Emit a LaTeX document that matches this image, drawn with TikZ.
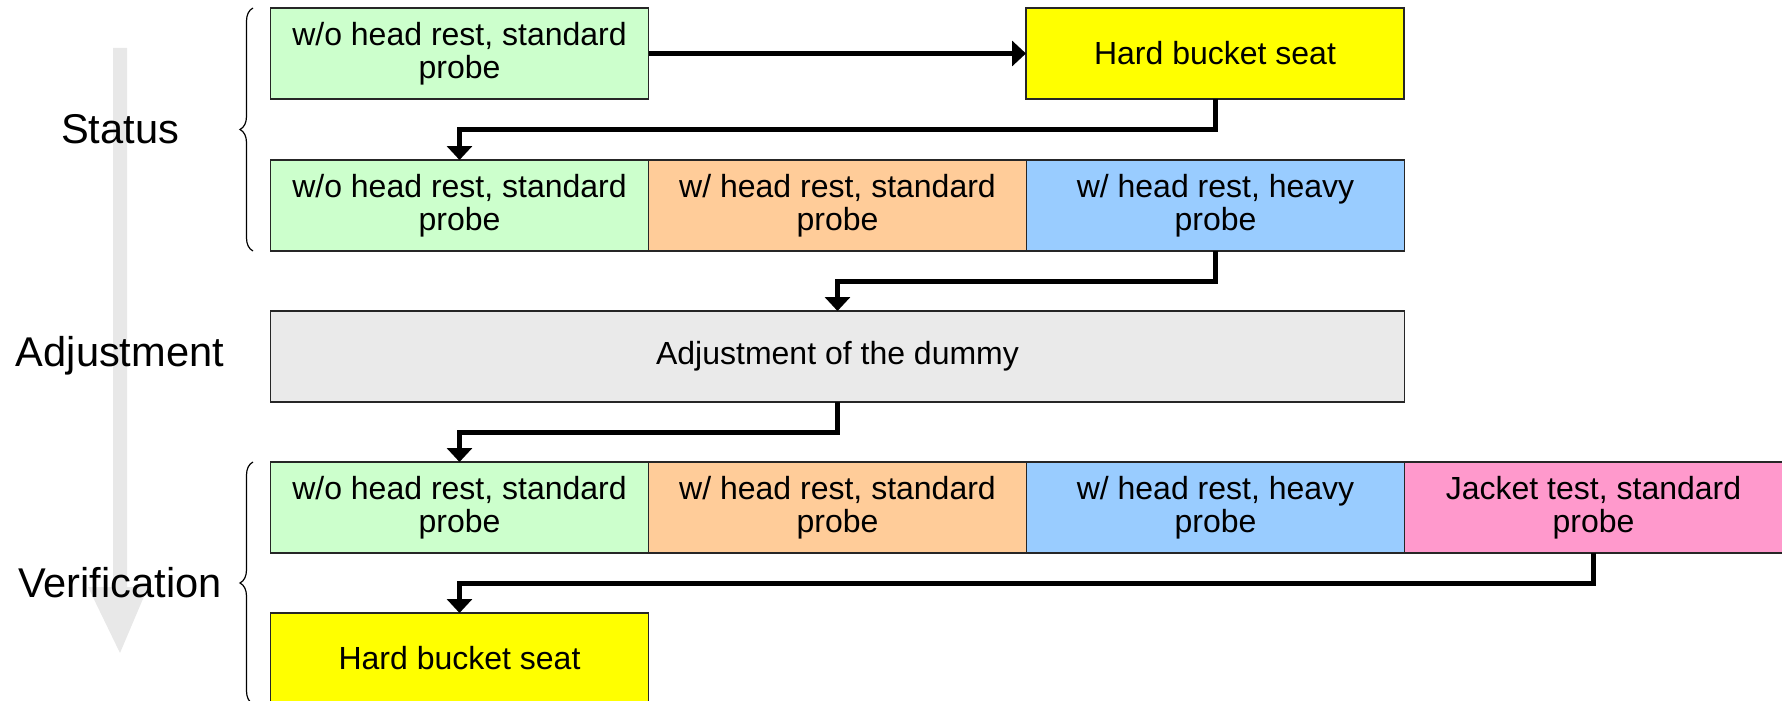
\documentclass[tikz,border=0pt]{standalone}
\usepackage{fontspec}
\setmainfont{Liberation Sans}
\usepackage{xcolor}
\usepackage{tikz}
\usetikzlibrary{positioning, arrows.meta, decorations.pathreplacing}
\definecolor{MintCell}{HTML}{CCFFCC}
\definecolor{PeachCell}{HTML}{FFCC99}
\definecolor{SkyCell}{HTML}{99CCFF}
\definecolor{RoseCell}{HTML}{FF99CC}
\definecolor{SeatCell}{HTML}{FFFF00}
\definecolor{DummyCell}{HTML}{EAEAEA}
\definecolor{FlowGrey}{HTML}{E8E8E8}

\begin{document}
\begin{tikzpicture}[x=0.5pt, y=-0.5pt,
    cell/.style={draw=black!85, line width=0.8pt, minimum width=189pt, minimum height=45.5pt,
      inner sep=0pt, outer sep=0pt, align=center, font=\fontsize{16}{16.7}\selectfont},
    phase/.style={font=\fontsize{20.8}{25}\selectfont},
    flow/.style={line width=2.5pt, -{Triangle[width=12.5pt, length=7pt]}},
    brc/.style={decorate, decoration={brace, amplitude=6.5pt}, line width=0.6pt}]
      \useasboundingbox (0,0) rectangle (1782,701);
      \fill[FlowGrey] (113,48) -- (127,48) -- (127,587) -- (148,587) -- (120,653) -- (88,587) -- (113,587) -- cycle;

      \node[phase] (status) at (120,129.5) {Status};
      \node[phase] (adjust) at (120,356) {Adjustment};
      \node[phase] (verify) at (120,583) {Verification};

      \node[cell, fill=MintCell, anchor=north west] (r1a) at (270.5,8) {w/o head rest, standard\\probe};
      \node[cell, fill=SeatCell, anchor=north west] (r1b) at (1026,8) {Hard bucket seat};

      \node[cell, fill=MintCell, anchor=north west] (r2a) at (270.5,160) {w/o head rest, standard\\probe};
      \node[cell, fill=PeachCell, right=0pt of r2a] (r2b) {w/ head rest, standard\\probe};
      \node[cell, fill=SkyCell, right=0pt of r2b] (r2c) {w/ head rest, heavy\\probe};

      \node[cell, fill=DummyCell, minimum width=567pt, anchor=north west] (dummy) at (270.5,311) {Adjustment of the dummy};

      \node[cell, fill=MintCell, anchor=north west] (r3a) at (270.5,462) {w/o head rest, standard\\probe};
      \node[cell, fill=PeachCell, right=0pt of r3a] (r3b) {w/ head rest, standard\\probe};
      \node[cell, fill=SkyCell, right=0pt of r3b] (r3c) {w/ head rest, heavy\\probe};
      \node[cell, fill=RoseCell, right=0pt of r3c] (r3d) {Jacket test, standard\\probe};

      \node[cell, fill=SeatCell, anchor=north west] (r4a) at (270.5,613) {Hard bucket seat};

      \draw[flow] (r1a.east) -- (r1b.west);
      \draw[flow] (r1b.south) -- ++(0,30.5) -| (r2a.north);
      \draw[flow] (r2c.south) -- ++(0,30) -| (dummy.north);
      \draw[flow] (dummy.south) -- ++(0,30.5) -| (r3a.north);
      \draw[flow] (r3d.south) -- ++(0,30) -| (r4a.north);

      \draw[brc] ([xshift=-8.75pt]r2a.south west) -- ([xshift=-8.75pt]r1a.north west);
      \draw[brc] ([xshift=-8.75pt]r4a.south west) -- ([xshift=-8.75pt]r3a.north west);
    \end{tikzpicture}
\end{document}
